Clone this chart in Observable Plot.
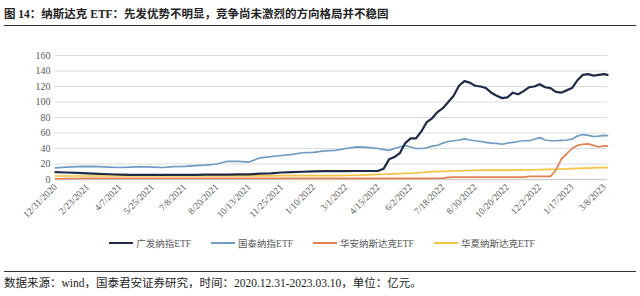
<!DOCTYPE html>
<html><head><meta charset="utf-8">
<script src="https://cdn.jsdelivr.net/npm/d3@7"></script>
<script src="https://cdn.jsdelivr.net/npm/@observablehq/plot@0.6"></script>
<style>
body{margin:0;background:#fff;width:640px;height:296px;overflow:hidden;position:relative;font-family:"Liberation Serif","Noto Sans CJK SC",serif;}
#title{position:absolute;left:4px;top:5px;width:632px;height:20px;border-bottom:1.6px solid #333;font-weight:bold;font-size:11.5px;color:#222;line-height:18px;font-family:"Liberation Serif","Noto Sans CJK SC",serif;}
#chart{position:absolute;left:0;top:30px;}
#legend{position:absolute;left:0;top:236px;width:640px;display:flex;justify-content:center;align-items:center;font-size:9.5px;color:#595959;padding-left:4px;box-sizing:border-box;}
.item{display:flex;align-items:center;margin:0 10px;}
.sw{width:24px;height:2px;margin-right:3px;}
#footer{position:absolute;left:4px;top:271px;width:632px;border-top:1.2px solid #333;font-size:11.5px;color:#222;padding-top:4px;line-height:14px;}
</style></head>
<body>
<div id="title">图 14：纳斯达克 ETF：先发优势不明显，竞争尚未激烈的方向格局并不稳固</div>
<div id="chart"></div>
<div id="legend"></div>
<div id="footer">数据来源：wind，国泰君安证券研究，时间：2020.12.31-2023.03.10，单位：亿元。</div>
<script>
const tickLabels = ["12/31/2020","2/23/2021","4/7/2021","5/25/2021","7/8/2021","8/20/2021","10/13/2021","11/25/2021","1/10/2022","3/1/2022","4/15/2022","6/2/2022","7/18/2022","8/30/2022","10/20/2022","12/2/2022","1/17/2023","3/8/2023"];
const tickDays = [0,30,60,90,120,150,180,210,240,270,300,330,360,390,420,450,480,510];
const seriesNames = ["广发纳指ETF","国泰纳指ETF","华安纳斯达克ETF","华夏纳斯达克ETF"];
const seriesColors = ["#1f2b47","#6f9cc4","#e3804f","#f5c344"];
// trading-day index of each sample
const days = [0,10,20,30,40,50,60,70,80,90,100,110,120,130,140,150,160,170,180,190,200,210,220,230,240,250,260,270,280,290,300,305,310,315,320,325,330,335,340,345,350,355,360,365,370,375,380,385,390,395,400,405,410,415,420,425,430,435,440,445,450,455,460,465,470,475,480,485,490,495,500,505,510,513];
const guangfa = [9.5,9,8.5,8,7.3,6.8,6.3,6,6,6,6,6,6,6,6.2,6.3,6.4,6.5,6.5,7.5,8,9,9.5,10,10.5,10.7,10.7,10.8,11,11,11.2,14,26,29,34,47,53,53,62,74,79,87,92,100,108,121,127,125,121,120,118,112,108,105,106,112,110,114,119,120,123,119,118,113,112,115,118,128,135,136,134,135,136,135];
const guotai = [15,16,16.5,17,16.5,16,15.5,16,16.5,16,15.5,16.5,17,18,18.5,20,23.5,23.5,22.5,28,29.5,31,32.5,34.5,35,37,37.5,40,42,41.5,40,38.5,37.5,40,42,44,42,40,40,41,43,44,47,49,50,51,52.5,51,50,49,48,47,46.5,45.5,47,48,49,50,50,52,54,51,50,50,50.5,51,52,56,58,57,55.5,56,57,56.5];
const huaan = [1,1.2,1.3,1.4,1.5,1.5,1.5,1.5,1.5,1.5,1.5,1.5,1.5,1.5,1.5,1.5,1.5,1.5,1.5,1.5,1.5,1.5,1.5,1.5,1.5,1.5,1.5,1.5,1.5,1.5,1.5,1.5,1.5,1.5,1.5,1.5,1.5,1.5,1.5,1.5,1.5,1.6,1.8,2.8,3,3,3,3,3,3,3,3,3,3,3,3,3,3,4,4,4,4,4,12,26,33,40,44,45.5,46,44,42,43.5,43];
const huaxia = [4.5,4.5,4.5,4.5,4.5,4.5,4.5,4.5,4.5,4.5,4.5,4.5,4.5,4.5,4.5,4.5,4.6,4.6,4.7,4.8,4.8,4.9,5,5,5,5,5,5.2,5.5,6,6.5,6.8,7,7.2,7.5,7.8,8,8.5,9,9.5,10,10.2,10.5,10.8,11,11.2,11.5,11.6,11.8,12,12,12,12,12,12,12.2,12.3,12.4,12.5,12.6,12.8,13,13,13.2,13.4,13.6,14,14.3,14.6,14.8,15,15.2,15.4,15.5];
const valuesByName = {"广发纳指ETF":guangfa,"国泰纳指ETF":guotai,"华安纳斯达克ETF":huaan,"华夏纳斯达克ETF":huaxia};
const drawOrder = ["华夏纳斯达克ETF","华安纳斯达克ETF","国泰纳指ETF","广发纳指ETF"];
const rows = drawOrder.flatMap(n => days.map((d,i)=>({day:d, value:valuesByName[n][i], name:n})));
const font = `"Liberation Serif","Noto Sans CJK SC",serif`;
const chart = Plot.plot({
  width:640, height:202, marginTop:25, marginBottom:53, marginLeft:55, marginRight:33,
  style:{fontFamily:font, background:"#fff"},
  x:{domain:[0,513]},
  y:{domain:[0,160]},
  color:{domain:seriesNames, range:seriesColors},
  marks:[
    Plot.gridY(d3.range(20,161,20), {stroke:"#dcdcdc", strokeOpacity:1}),
    Plot.ruleY([0], {stroke:"#cfcfcf", strokeWidth:1.5}),
    Plot.axisY(d3.range(0,161,20), {tickSize:0, tickPadding:5, fontSize:10, color:"#595959", label:null}),
    Plot.axisX(tickDays, {tickSize:0, tickPadding:6, tickRotate:-45, fontSize:9.5, color:"#595959", label:null, tickFormat:d => tickLabels[tickDays.indexOf(d)]}),
    Plot.line(rows, {x:"day", y:"value", z:"name", stroke:"name", strokeWidth:d => d.name==="广发纳指ETF"?2.2:1.7, curve:"linear"})
  ]
});
document.getElementById("chart").appendChild(chart);
const leg = document.getElementById("legend");
seriesNames.forEach((n,i)=>{
  const it = document.createElement("div"); it.className="item";
  const sw = document.createElement("div"); sw.className="sw"; sw.style.background=seriesColors[i];
  const t = document.createElement("span"); t.textContent=n;
  it.appendChild(sw); it.appendChild(t); leg.appendChild(it);
});
</script>
</body></html>
